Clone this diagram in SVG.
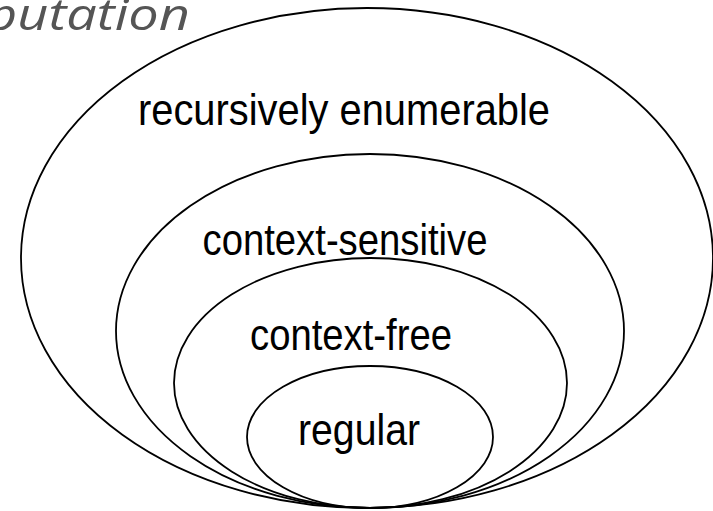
<svg xmlns="http://www.w3.org/2000/svg" width="713" height="511" viewBox="0 0 713 511">
<style>
.set{fill:none;stroke:#000;stroke-width:1.8}
.lbl{font-family:"Liberation Sans",Arial,sans-serif;font-size:44px;fill:#000;text-anchor:middle}
.title{font-family:"Open Sans","Noto Sans",sans-serif;font-style:italic;font-size:44px;fill:#555}
</style>
<rect width="713" height="511" fill="#fff"/>
<text class="title" x="-14" y="30" textLength="204" lengthAdjust="spacingAndGlyphs">putation</text>
<g id="re"><ellipse class="set" cx="367" cy="258" rx="346" ry="250"/><text class="lbl" x="344" y="125" textLength="412" lengthAdjust="spacingAndGlyphs">recursively enumerable</text></g>
<g id="cs"><ellipse class="set" cx="370" cy="331" rx="254" ry="177"/><text class="lbl" x="345" y="255" textLength="285" lengthAdjust="spacingAndGlyphs">context-sensitive</text></g>
<g id="cf"><ellipse class="set" cx="370.5" cy="383" rx="196.5" ry="125"/><text class="lbl" x="351" y="350" textLength="202" lengthAdjust="spacingAndGlyphs">context-free</text></g>
<g id="reg"><ellipse class="set" cx="370" cy="437" rx="123" ry="71"/><text class="lbl" x="359" y="445" textLength="122" lengthAdjust="spacingAndGlyphs">regular</text></g>
<g id="connectors"/>
</svg>
